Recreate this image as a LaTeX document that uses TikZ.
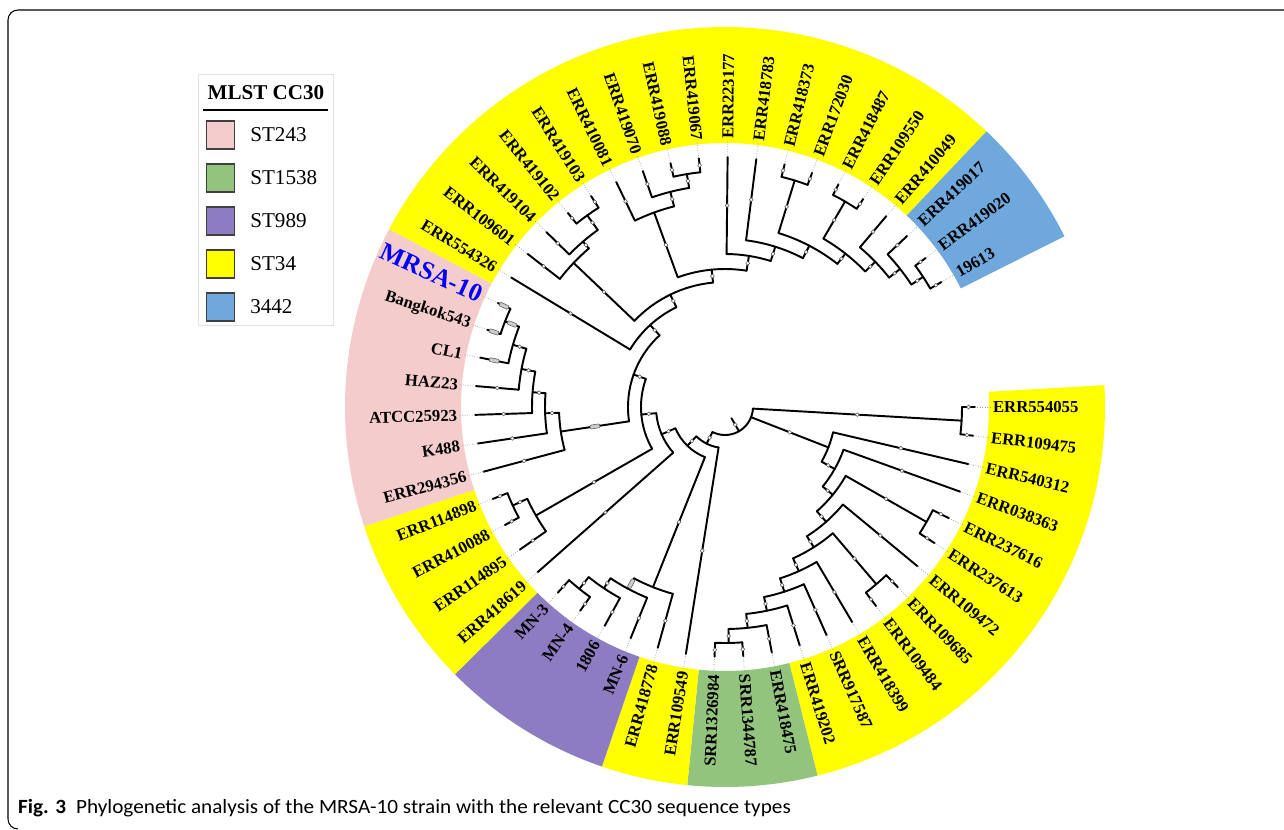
\documentclass[tikz,border=0pt]{standalone}
\usepackage{fontspec}
\setmainfont{Liberation Serif}
\newfontfamily\capfont[FakeStretch=1.05]{Carlito}
\usetikzlibrary{positioning}

\definecolor{stpink}{HTML}{F4CCCC}
\definecolor{stgreen}{HTML}{93C47D}
\definecolor{stpurple}{HTML}{8E7CC3}
\definecolor{styellow}{HTML}{FFFF00}
\definecolor{stblue}{HTML}{6FA8DC}
\newcommand{\mrsaname}{\textcolor{blue}{\fontsize{14.5}{16}\selectfont MRSA-10}}

\begin{document}
\begin{tikzpicture}[x=0.02cm,y=0.02cm,
    branch/.style={line width=1.1pt, line cap=round},
    leader/.style={densely dotted, black!40, line width=0.4pt},
    support/.style={shape=circle, draw=black!65, fill=white, line width=0.3pt, inner sep=0pt, minimum size=2.2pt},
    bar/.style={shape=rectangle, rounded corners=0.5pt, draw=black!65, fill=black!20, line width=0.3pt, inner sep=0pt, minimum width=5.5pt, minimum height=2.2pt},
    leaf/.style={font=\bfseries\fontsize{9.5}{11}\selectfont, inner sep=1pt},
    swatch/.style={shape=rectangle, draw=black!75, line width=0.6pt, minimum size=0.56cm, inner sep=0pt}]
  \useasboundingbox (-725,-422) rectangle (559,407);

  % frame and caption
  \draw[line width=0.6pt] (559,397) -- (-707,397) arc[start angle=90, end angle=180, radius=10] -- (-717,-412) arc[start angle=180, end angle=270, radius=10];
  \node[anchor=west, font=\capfont\fontsize{11.5}{13}\selectfont] (caption) at (-713,-401) {\textbf{Fig. 3}\hspace{0.5em}Phylogenetic analysis of the MRSA-10 strain with the relevant CC30 sequence types};

  % coloured ring, one sector per sequence type
  \foreach \s/\e/\c in {3.3/-75.9/styellow, -75.9/-95.7/stgreen, -95.7/-108.9/styellow, -108.9/-135.3/stpurple,
                        -135.3/-161.7/styellow, -161.7/-207.9/stpink, -207.9/-313.5/styellow, -313.5/-333.3/stblue}
  {
    \fill[\c] (\s:264) arc[start angle=\s, end angle=\e, radius=264] -- (\e:380) arc[start angle=\e, end angle=\s, radius=380] -- cycle;
  }

  % arcs of the internal nodes: start/end/radius
  \foreach \s/\e/\r in {-3.3/-116.63/28, 0/-6.6/237, -13.2/-29.48/111, -19.8/-39.16/126, -29.7/-48.62/139,
                        -26.4/-33/232, -39.6/-57.65/153, -49.5/-65.79/166, -46.2/-52.8/233, -59.4/-72.19/180,
                        -66/-78.38/194, -72.6/-84.15/208, -79.2/-89.1/222, -85.8/-92.4/236,
                        -99/-134.26/41, -111.79/-156.73/54, -105.6/-117.98/194, -112.2/-123.75/206,
                        -118.8/-128.7/218, -125.4/-132/233, -138.6/-174.86/69, -150.15/-199.57/84,
                        -145.2/-155.1/218, -151.8/-158.4/234, -171.5/-227.6/97,
                        -165/-177.99/166, -171.6/-184.39/180, -178.2/-190.58/193, -184.8/-196.35/207,
                        -191.4/-201.3/221, -198/-204.6/236,
                        -211.2/-244.03/111, -223.58/-264.49/125, -217.8/-229.35/209, -224.4/-234.3/218,
                        -231/-237.6/236, -249.98/-279.0/138, -244.2/-255.75/207, -250.8/-260.7/222,
                        -257.4/-264/236, -270.6/-287.41/153, -277.2/-297.62/168, -287.1/-308.14/182,
                        -283.8/-290.4/237, -300.3/-315.98/195, -297/-303.6/238, -310.2/-321.75/209,
                        -316.8/-326.7/223, -323.4/-330/237}
  {
    \draw[branch] (\s:\r) arc[start angle=\s, end angle=\e, radius=\r];
  }

  % stems of the internal nodes: angle/inner/outer
  \foreach \a/\ri/\ro in {-59.97/13/28, -3.3/28/237, -21.34/28/111, -116.63/28/41,
                          -29.48/111/126, -39.16/126/139, -29.7/139/232, -48.62/139/153, -57.65/153/166,
                          -49.5/166/233, -65.79/166/180, -72.19/180/194, -78.38/194/208, -84.15/208/222,
                          -89.1/222/236, -134.26/41/54, -111.79/54/194, -117.98/194/206, -123.75/206/218,
                          -128.7/218/233, -156.73/54/69, -174.86/69/84, -150.15/84/218, -155.1/218/234,
                          -199.57/84/97, -171.5/97/166, -177.99/166/180, -184.39/180/193, -190.58/193/207,
                          -196.35/207/221, -201.3/221/236, -227.6/97/111, -244.03/111/125, -223.58/125/209,
                          -229.35/209/218, -234.3/218/236, -264.49/125/138, -249.98/138/207, -255.75/207/222,
                          -260.7/222/236, -279.0/138/153, -287.41/153/168, -297.62/168/182, -287.1/182/237,
                          -308.14/182/195, -300.3/195/238, -315.98/195/209, -321.75/209/223, -326.7/223/237}
  {
    \draw[branch] (\a:\ri) -- (\a:\ro);
    \node[support] at (\a:{(\ri+\ro)/2}) {};
  }

  % leaves: number/name/radius of the parent node
  \foreach \i/\name/\rp in {1/ERR554055/237, 2/ERR109475/237, 3/ERR540312/111, 4/ERR038363/126,
                            5/ERR237616/232, 6/ERR237613/232, 7/ERR109472/153, 8/ERR109685/233,
                            9/ERR109484/233, 10/ERR418399/180, 11/SRR917587/194, 12/ERR419202/208,
                            13/ERR418475/222, 14/SRR1344787/236, 15/SRR1326984/236, 16/ERR109549/41,
                            17/ERR418778/194, 18/MN-6/206, 19/1806/218, 20/MN-4/233, 21/MN-3/233,
                            22/ERR418619/69, 23/ERR114895/218, 24/ERR410088/234, 25/ERR114898/234,
                            26/ERR294356/166, 27/K488/180, 28/ATCC25923/193, 29/HAZ23/207, 30/CL1/221,
                            31/Bangkok543/236, 32/\mrsaname/236, 33/ERR554326/111, 34/ERR109601/209,
                            35/ERR419104/218, 36/ERR419102/236, 37/ERR419103/236, 38/ERR410081/207,
                            39/ERR419070/222, 40/ERR419088/236, 41/ERR419067/236, 42/ERR223177/153,
                            43/ERR418783/168, 44/ERR418373/237, 45/ERR172030/237, 46/ERR418487/238,
                            47/ERR109550/238, 48/ERR410049/209, 49/ERR419017/223, 50/ERR419020/237,
                            51/19613/237}
  {
    \pgfmathsetmacro\a{-(\i-1)*6.6}
    \def\anc{west}
    \let\rot\a
    \ifnum\i>14 \ifnum\i<42 \def\anc{east}\pgfmathsetmacro\rot{\a+180}\fi\fi
    \coordinate (t\i) at (\a:250);
    \draw[branch] (\a:\rp) -- (t\i);
    \node[support] at (\a:{(\rp+250)/2}) {};
    \node[leaf, rotate=\rot, anchor=\anc] (l\i) at (\a:266) {\name};
    \draw[leader] (t\i) -- (l\i);
  }

  % grey bars on a few branches
  \foreach \a/\r in {-171.5/131.5, -201.3/228.5, -117.98/200, -191.4/235.5, -198/243, -204.6/243}
  {
    \node[bar, rotate=\a] at (\a:\r) {};
  }

  % legend
  \draw[black!12] (-527,333) rectangle (-392,82);
  \node[font=\bfseries\fontsize{12}{14}\selectfont] (title) at (-459,314) {MLST CC30};
  \draw[line width=0.6pt] (-522,297) -- (-397,297);
  \foreach \y/\c/\t [count=\k] in {272/stpink/ST243, 229/stgreen/ST1538, 186/stpurple/ST989, 143/styellow/ST34, 100/stblue/3442}
  {
    \node[swatch, fill=\c] (sw\k) at (-504.5,\y) {};
    \node[right=0.3cm of sw\k, inner sep=0pt, font=\fontsize{12}{14}\selectfont] (st\k) {\t};
  }
\end{tikzpicture}
\end{document}
